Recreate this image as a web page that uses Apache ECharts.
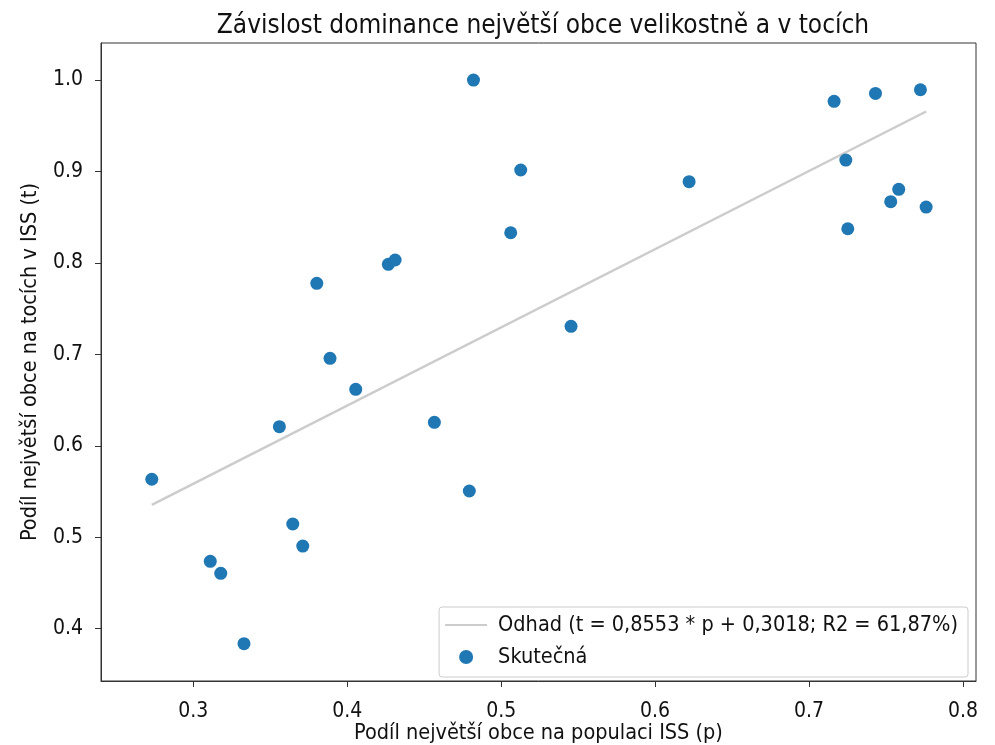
<!DOCTYPE html>
<html>
<head>
<meta charset="utf-8">
<script src="https://cdn.jsdelivr.net/npm/echarts@6/dist/echarts.min.js"></script>
<style>
  html, body { margin: 0; padding: 0; background: #fff; }
  #main { width: 995px; height: 745px; }
</style>
</head>
<body>
<div id="main"></div>
<script>
// podil nejvetsi obce na populaci ISS (p)
const podilPopulace = [
  0.4820, 0.5127, 0.5062, 0.4267, 0.4311, 0.3802, 0.3888,
  0.7163, 0.7432, 0.7724, 0.7239, 0.7583, 0.7531, 0.7761, 0.7252,
  0.6221, 0.5454, 0.2730, 0.4055, 0.3559, 0.4566, 0.4793,
  0.3646, 0.3711, 0.3110, 0.3178, 0.3329
]
// podil nejvetsi obce na tocich v ISS (t)
const podilToky = [
  1.0000, 0.9016, 0.8330, 0.7985, 0.8032, 0.7777, 0.6957,
  0.9767, 0.9854, 0.9894, 0.9125, 0.8805, 0.8670, 0.8611, 0.8374,
  0.8888, 0.7307, 0.5634, 0.6618, 0.6209, 0.6257, 0.5506,
  0.5145, 0.4904, 0.4737, 0.4606, 0.3836
]
// odhad - krajni body primky
const odhadX = [0.2730, 0.7761]
const odhadY = [0.5353, 0.9656]

const xTicks = [0.3, 0.4, 0.5, 0.6, 0.7, 0.8]
const yTicks = [0.4, 0.5, 0.6, 0.7, 0.8, 0.9, 1.0]

const font = '"DejaVu Sans Condensed", "Liberation Sans Narrow", "DejaVu Sans", sans-serif'
const odhadName = 'Odhad (t = 0,8553 * p + 0,3018; R2 = 61,87%)'

var myChart = echarts.init(document.querySelector('#main'))

const option = {
  animation: false,
  title: {
    text: 'Závislost dominance největší obce velikostně a v tocích',
    left: 538,
    textAlign: 'center',
    top: 8,
    textStyle: {
      fontFamily: font,
      fontSize: 26,
      fontWeight: 'normal',
      color: '#111'
    }
  },
  grid: {
    left: 101,
    right: 19,
    top: 43,
    bottom: 64,
    outerBoundsMode: 'none',
    show: true,
    borderColor: '#333',
    borderWidth: 1
  },
  legend: {
    orient: 'vertical',
    right: 27,
    bottom: 68,
    padding: [7, 10, 9, 5],
    itemWidth: 42,
    itemHeight: 14,
    itemGap: 10,
    borderColor: '#ccc',
    borderWidth: 1,
    borderRadius: 3,
    backgroundColor: 'rgba(255,255,255,0.8)',
    textStyle: {
      fontFamily: font,
      fontSize: 21.5,
      color: '#111',
      padding: [0, 0, 0, 6]
    },
    data: [
      { name: odhadName, itemStyle: { color: 'rgba(0,0,0,0)', borderWidth: 0 } },
      { name: 'Skutečná', icon: 'circle' }
    ]
  },
  xAxis: {
    type: 'value',
    min: 0.24,
    max: 0.8085,
    name: 'Podíl největší obce na populaci ISS (p)',
    nameLocation: 'middle',
    nameGap: 41,
    nameMoveOverlap: false,
    nameTextStyle: { fontFamily: font, fontSize: 21.5, color: '#111' },
    axisLine: { lineStyle: { color: '#333' } },
    axisTick: { customValues: xTicks, length: 6, lineStyle: { color: '#333' } },
    axisLabel: {
      customValues: xTicks,
      formatter: v => v.toFixed(1),
      fontFamily: font,
      fontSize: 21,
      color: '#111',
      margin: 20
    },
    splitLine: { show: false }
  },
  yAxis: {
    type: 'value',
    min: 0.3428,
    max: 1.0405,
    name: 'Podíl největší obce na tocích v ISS (t)',
    nameLocation: 'middle',
    nameGap: 60,
    nameMoveOverlap: false,
    nameTextStyle: { fontFamily: font, fontSize: 21.5, color: '#111' },
    axisLine: { show: true, lineStyle: { color: '#333' } },
    axisTick: { show: true, customValues: yTicks, length: 6, lineStyle: { color: '#333' } },
    axisLabel: {
      customValues: yTicks,
      formatter: v => v.toFixed(1),
      fontFamily: font,
      fontSize: 21,
      color: '#111',
      margin: 18
    },
    splitLine: { show: false }
  },
  series: [
    {
      name: odhadName,
      type: 'line',
      symbol: 'none',
      data: odhadX.map((x, i) => [x, odhadY[i]]),
      lineStyle: { color: '#cccccc', width: 2.5 },
      itemStyle: { color: '#cccccc' },
      z: 1
    },
    {
      name: 'Skutečná',
      type: 'scatter',
      symbolSize: 13,
      data: podilPopulace.map((x, i) => [x, podilToky[i]]),
      itemStyle: { color: '#1f77b4', opacity: 1 },
      z: 2
    }
  ]
}

myChart.setOption(option)
</script>
</body>
</html>
